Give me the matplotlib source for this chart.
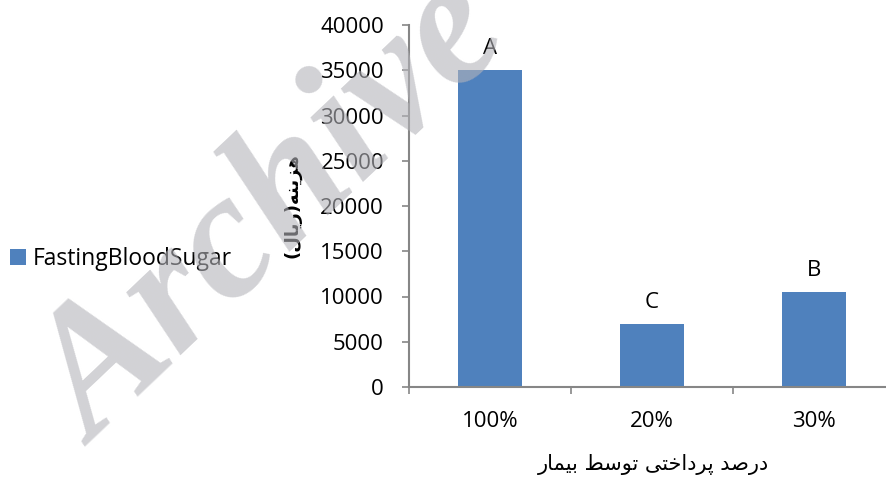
import matplotlib
matplotlib.use("Agg")
import matplotlib.pyplot as plt
from matplotlib.ticker import FixedLocator, NullFormatter

# Data
categories = ["100%", "20%", "30%"]
costs = [35000, 7000, 10500]
group_letters = ["A", "C", "B"]
series_name = "FastingBloodSugar"
y_ticks = [0, 5000, 10000, 15000, 20000, 25000, 30000, 35000, 40000]

# Persian labels, written in shaped presentation forms, visual order
x_title = ("\uFEAD\uFE8E\uFEE4\uFBFF\uFE91 "
           "\uFEC2\uFEB3\uFEEE\uFE97 "
           "\uFBFD\uFE98\uFEA7\uFE8D\uFEA9\uFEAE\uFB58 "
           "\uFEAA\uFEBB\uFEAD\uFEA9")
y_title = "(\uFEDD\uFE8E\uFBFE\uFEAD)\uFEEA\uFEE8\uFBFE\uFEB0\uFEEB"

BAR = "#4F81BD"
AXIS = "#868686"
FONT = "Open Sans"
FS = 16

W, H = 886, 484
fig = plt.figure(figsize=(W / 100, H / 100), dpi=100)

ax = fig.add_axes([409 / W, 1 - 387 / H, 486 / W, 362 / H])
ax.patch.set_alpha(0)

x = list(range(len(categories)))
bars = ax.bar(x, costs, width=0.4, color=BAR, label=series_name, zorder=2)

for xi, v, lab in zip(x, costs, group_letters):
    ax.annotate(lab, (xi, v), xytext=(0, 8), textcoords="offset points",
                ha="center", va="bottom", fontsize=FS, family=FONT)

ax.set_xlim(-0.5, len(categories) - 0.5)
ax.set_ylim(0, 40000)
ax.set_yticks(y_ticks)
ax.set_yticklabels([str(t) for t in y_ticks], fontsize=FS, family=FONT)

ax.set_xticks(x)
ax.set_xticklabels(categories, fontsize=FS, family=FONT)
ax.xaxis.set_minor_locator(FixedLocator([i - 0.5 for i in range(len(categories) + 1)]))
ax.xaxis.set_minor_formatter(NullFormatter())
ax.tick_params(axis="x", which="major", length=0, pad=17)
ax.tick_params(axis="x", which="minor", length=5, width=1.2, color=AXIS, direction="out")
ax.tick_params(axis="y", length=5, width=1.2, color=AXIS, direction="out", pad=13)

for side in ("top", "right"):
    ax.spines[side].set_visible(False)
for side in ("left", "bottom"):
    ax.spines[side].set_color(AXIS)
    ax.spines[side].set_linewidth(1.5)

ax.set_xlabel(x_title, fontsize=15, family="DejaVu Sans", va="center")
ax.xaxis.set_label_coords(0.502, -0.215)
ax.set_ylabel(y_title, fontsize=13, family="DejaVu Sans", weight="bold", va="center")
ax.yaxis.set_label_coords(-0.239, 0.5)

fig.legend(handles=[bars], labels=[series_name], loc="center left",
           bbox_to_anchor=(10 / W, 1 - 259 / H), frameon=False,
           prop={"family": FONT, "size": 16.5}, handlelength=0.7, handleheight=0.7,
           handletextpad=0.3, borderaxespad=0, borderpad=0)

# Semi-transparent watermark laid over the chart
fig.text(94 / W, 1 - 447 / H, "Archive", fontsize=130, family="Liberation Serif",
         weight="bold", style="italic", color=(0.706, 0.706, 0.73), alpha=0.6,
         rotation=43.5, rotation_mode="anchor", ha="left", va="baseline", zorder=10)

fig.savefig("out.png", dpi=100)
